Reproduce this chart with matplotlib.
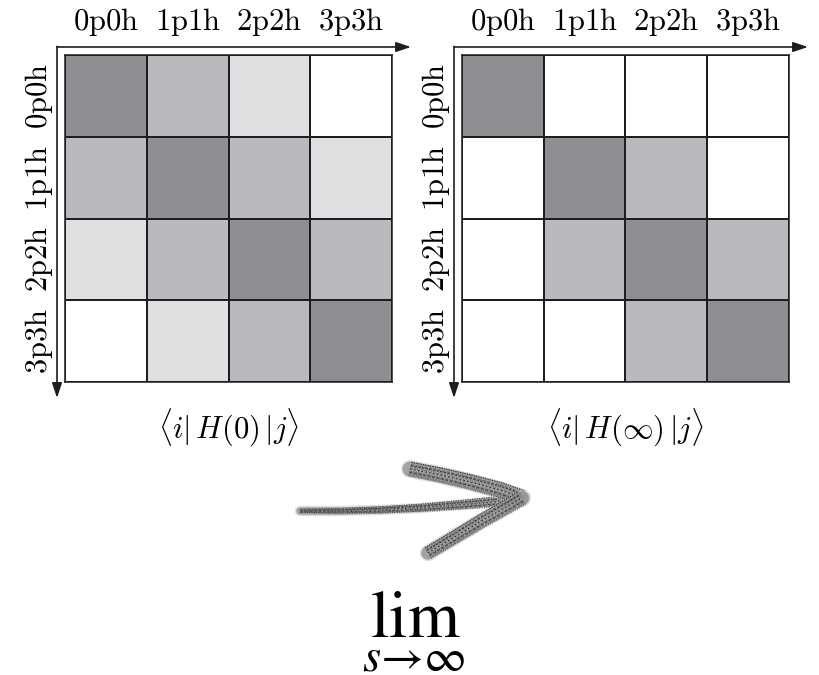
import numpy as np
import matplotlib.pyplot as plt
from matplotlib.colors import ListedColormap

# Hamiltonian block structure: 0 = strong coupling ... 3 = zero
states = ["0p0h", "1p1h", "2p2h", "3p3h"]
h_start = [[0, 1, 2, 3],
           [1, 0, 1, 2],
           [2, 1, 0, 1],
           [3, 2, 1, 0]]
h_end = [[0, 3, 3, 3],
         [3, 0, 1, 3],
         [3, 1, 0, 1],
         [3, 3, 1, 0]]
titles = [r"$\langle i|\,H(0)\,|j\rangle$", r"$\langle i|\,H(\infty)\,|j\rangle$"]

W, H = 820, 675
shades = ListedColormap(["#8e8f93", "#b9babd", "#dfe0e2", "#ffffff"])
plt.rcParams["mathtext.fontset"] = "cm"

fig = plt.figure(figsize=(W / 100, H / 100), dpi=100)

# overlay in pixel coordinates for arrows and free text
ov = fig.add_axes([0, 0, 1, 1], zorder=5)
ov.set_xlim(0, W); ov.set_ylim(H, 0)
ov.axis("off"); ov.patch.set_visible(False)

lefts = [65, 462]
top, size = 55, 327
for x0, mat, title in zip(lefts, [h_start, h_end], titles):
    ax = fig.add_axes([x0 / W, (H - top - size) / H, size / W, size / H])
    ax.pcolormesh(np.array(mat), cmap=shades, vmin=-0.5, vmax=3.5,
                  edgecolors="#1e1e1e", linewidth=1.1)
    ax.set_xlim(0, 4); ax.set_ylim(4, 0)
    for s in ax.spines.values():
        s.set_linewidth(1.1); s.set_color("#1e1e1e")
    ax.set_xticks(np.arange(4) + 0.5)
    ax.set_xticklabels([rf"$\mathrm{{{s}}}$" for s in states], fontsize=22)
    ax.set_yticks(np.arange(4) + 0.5)
    ax.set_yticklabels([rf"$\mathrm{{{s}}}$" for s in states], fontsize=22,
                       rotation=90, va="center")
    ax.tick_params(top=True, labeltop=True, bottom=False, labelbottom=False,
                   length=0, pad=12)
    ax.tick_params(axis="y", pad=7)

    # axis arrows
    ax0 = x0 - 8
    head = "-|>,head_length=0.9,head_width=0.3"
    ov.annotate("", xy=(x0 + size + 19, top - 8), xytext=(ax0, top - 8),
                arrowprops=dict(arrowstyle=head, lw=1.2, color="#1e1e1e",
                                shrinkA=0, shrinkB=0))
    ov.annotate("", xy=(ax0, top + size + 16), xytext=(ax0, top - 8.6),
                arrowprops=dict(arrowstyle=head, lw=1.2, color="#1e1e1e",
                                shrinkA=0, shrinkB=0))
    ov.text(x0 + size / 2, 427, title, fontsize=22, ha="center", va="center")


def chalk(xs, ys, w0, w1):
    """Stroke a polyline as a bundle of broken grey threads (chalk look)."""
    xs, ys = np.asarray(xs, float), np.asarray(ys, float)
    dx, dy = np.gradient(xs), np.gradient(ys)
    n = np.hypot(dx, dy)
    nx, ny = -dy / n, dx / n
    w = np.linspace(w0, w1, len(xs))
    ov.plot(xs, ys, color="#c8c8c8", lw=0.72 * (w0 + w1) / 2 + 2, alpha=0.6,
            solid_capstyle="round")
    ov.plot(xs, ys, color="#8a8a8a", lw=0.72 * (w0 + w1) / 2, alpha=0.7,
            solid_capstyle="round")
    greys = ["#1e1e1e", "#5a5a5a", "#7c7c7c", "#333333", "#666666", "#a0a0a0"]
    dash = [(1.0, 0.7), (0.4, 1.3), (1.8, 0.9), (0.7, 0.5), (1.2, 1.6),
            (0.5, 0.8), (2.2, 1.1)]
    ks = np.linspace(-0.48, 0.48, 13)
    for j, k in enumerate(ks):
        ov.plot(xs + nx * w * k, ys + ny * w * k, lw=1.0,
                color=greys[(j * 5) % 6], dashes=dash[(j * 3) % 7], alpha=0.85)


# chalk-style arrow
shaft_x = [300, 340, 380, 420, 460, 495, 522]
shaft_y = [511, 511, 510, 508, 505, 502, 498]
upper_x = [410, 440, 470, 500, 522]
upper_y = [469, 475, 482, 490, 498]
lower_x = [428, 455, 480, 503, 522]
lower_y = [553, 537, 522, 509, 498]
chalk(shaft_x, shaft_y, 3, 12)
chalk(upper_x, upper_y, 14, 16)
chalk(lower_x, lower_y, 12, 15)

ov.text(414, 674, r"$\lim_{s\to\infty}$", fontsize=48, ha="center",
        va="bottom", math_fontfamily="stix")

fig.savefig("out.png", dpi=100)
